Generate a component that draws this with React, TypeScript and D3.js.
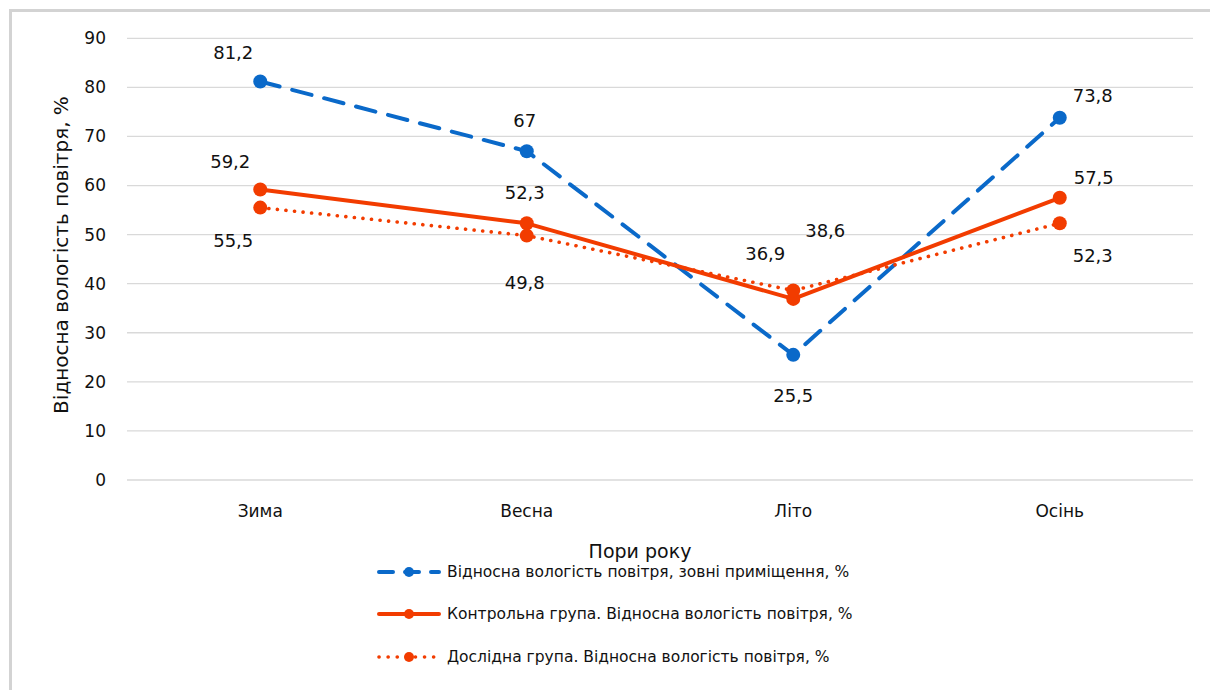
import React from "react";
import * as d3 from "d3";

// Seasons and relative humidity values (%)
const seasons = ["Зима", "Весна", "Літо", "Осінь"];
const outdoor = [81.2, 67, 25.5, 73.8];
const control = [59.2, 52.3, 36.9, 57.5];
const experimental = [55.5, 49.8, 38.6, 52.3];
const yTicks = [0, 10, 20, 30, 40, 50, 60, 70, 80, 90];

const seriesNames = [
  "Відносна вологість повітря, зовні приміщення, %",
  "Контрольна група. Відносна вологість повітря, %",
  "Дослідна група. Відносна вологість повітря, %",
];

// Label placement offsets (dx, dy) relative to each point
const outdoorLabelOffsets: [number, number][] = [[-27, -29], [-2, -30], [0, 41], [33, -22]];
const controlLabelOffsets: [number, number][] = [[-30, -28], [-2, -31], [-28, -45], [34, -20]];
const experimentalLabelOffsets: [number, number][] = [[-27, 33], [-2, 47], [32, -60], [33, 32]];

const BLUE = "#0a69c9";
const ORANGE = "#f23c00";
const FONT = "'DejaVu Sans', 'Liberation Sans', sans-serif";

export default function App() {
  const width = 1210;
  const height = 690;
  const plot = { left: 127, right: 1193, top: 38.3, bottom: 480 };

  const x = d3.scaleBand<string>().domain(seasons).range([plot.left, plot.right]);
  const y = d3.scaleLinear().domain([0, 90]).range([plot.bottom, plot.top]);
  const cx = (s: string) => (x(s) ?? 0) + x.bandwidth() / 2;

  const line = d3
    .line<number>()
    .x((_, i) => cx(seasons[i]))
    .y((v) => y(v));

  const series = [
    { values: outdoor, color: BLUE, width: 4, dash: "20 13", offsets: outdoorLabelOffsets, r: 7 },
    { values: control, color: ORANGE, width: 4, dash: undefined, offsets: controlLabelOffsets, r: 7 },
    { values: experimental, color: ORANGE, width: 3.6, dash: "0.1 8.5", offsets: experimentalLabelOffsets, r: 7 },
  ];

  const legendRows = [572, 614, 657];

  return (
    <svg
      width={width}
      height={height}
      style={{ position: "absolute", left: 0, top: 0, background: "#fff" }}
      fontFamily={FONT}
    >
      <rect x={0} y={0} width={width} height={height} fill="#fff" />
      {/* chart frame */}
      <rect x={10.5} y={10.5} width={width + 20} height={height + 20} fill="none" stroke="#d3d3d3" strokeWidth={3} />

      {/* horizontal gridlines */}
      {yTicks.map((t) => (
        <line key={t} x1={plot.left} x2={plot.right} y1={y(t)} y2={y(t)} stroke="#d9d9d9" strokeWidth={1.3} />
      ))}

      {/* y tick labels */}
      {yTicks.map((t) => (
        <text key={t} x={106} y={y(t)} dy="0.35em" textAnchor="end" fontSize={17} fill="#111">
          {t}
        </text>
      ))}

      {/* category labels */}
      {seasons.map((s) => (
        <text key={s} x={cx(s)} y={511} dy="0.35em" textAnchor="middle" fontSize={17} fill="#111">
          {s}
        </text>
      ))}

      {/* axis titles */}
      <text
        transform={`translate(61, 255) rotate(-90)`}
        textAnchor="middle"
        dy="0.35em"
        fontSize={20}
        fill="#111"
      >
        Відносна вологість повітря, %
      </text>
      <text x={640} y={551} dy="0.35em" textAnchor="middle" fontSize={19} fill="#111">
        Пори року
      </text>

      {/* series lines */}
      {series.map((s, i) => (
        <path
          key={`l${i}`}
          d={line(s.values) ?? ""}
          fill="none"
          stroke={s.color}
          strokeWidth={s.width}
          strokeDasharray={s.dash}
          strokeLinecap="round"
          strokeLinejoin="round"
        />
      ))}

      {/* markers */}
      {series.map((s, i) =>
        s.values.map((v, j) => (
          <circle key={`m${i}-${j}`} cx={cx(seasons[j])} cy={y(v)} r={s.r} fill={s.color} />
        ))
      )}

      {/* data labels */}
      {series.map((s, i) =>
        s.values.map((v, j) => (
          <text
            key={`t${i}-${j}`}
            x={cx(seasons[j]) + s.offsets[j][0]}
            y={y(v) + s.offsets[j][1]}
            dy="0.35em"
            textAnchor="middle"
            fontSize={18}
            fill="#111"
          >
            {String(v).replace(".", ",")}
          </text>
        ))
      )}

      {/* legend */}
      {series.map((s, i) => (
        <g key={`lg${i}`}>
          <line
            x1={379}
            x2={439}
            y1={legendRows[i]}
            y2={legendRows[i]}
            stroke={s.color}
            strokeWidth={s.width}
            strokeDasharray={i === 0 ? "14 12" : i === 2 ? "0.1 9" : undefined}
            strokeLinecap="round"
          />
          <circle cx={409} cy={legendRows[i]} r={5} fill={s.color} />
          <text x={447} y={legendRows[i]} dy="0.35em" fontSize={15.5} fill="#111">
            {seriesNames[i]}
          </text>
        </g>
      ))}
    </svg>
  );
}
